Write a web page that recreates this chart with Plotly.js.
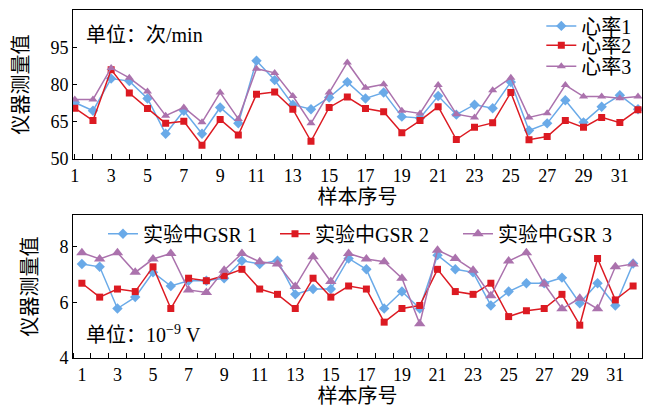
<!DOCTYPE html>
<html>
<head>
<meta charset="utf-8">
<script src="https://cdn.plot.ly/plotly-3.0.1.min.js"></script>
<style>html,body{margin:0;padding:0;background:#fff;}#chart{width:648px;height:410px;}</style>
</head>
<body>
<div id="chart"></div>
<script>
// ---- data ----
const samples = [1,2,3,4,5,6,7,8,9,10,11,12,13,14,15,16,17,18,19,20,21,22,23,24,25,26,27,28,29,30,31,32];
const xTickVals = [1,3,5,7,9,11,13,15,17,19,21,23,25,27,29,31];
const xTickText = ["1","3","5","7","9","11","13","15","17","19","21","23","25","27","29","31"];

const hr1 = [72.8,69.5,82.4,81.4,74.4,60.2,69.5,60.2,70.8,64.4,89.6,81.8,71.9,70.1,74.8,81.0,74.4,76.8,67.1,66.6,75.4,67.9,71.9,70.5,81.0,61.5,64.4,73.7,64.8,71.1,75.7,70.1];
const hr2 = [70.5,65.5,86.0,76.6,70.4,64.4,65.2,55.6,66.0,59.7,76.1,77.0,70.1,57.2,70.8,75.0,70.4,69.1,60.6,65.5,71.1,57.9,62.8,64.6,76.8,57.8,59.1,65.5,62.8,66.8,64.7,69.9];
const hr3 = [74.0,74.0,86.7,82.7,77.2,67.5,70.8,64.8,76.8,66.2,86.4,84.7,75.4,64.4,76.8,88.9,78.7,80.1,69.5,68.4,79.8,68.1,66.8,77.7,82.7,66.8,68.5,79.8,75.2,75.2,74.5,75.2];

const gsr1 = [7.38,7.28,5.78,6.19,7.08,6.59,6.78,6.78,6.87,7.50,7.38,7.50,6.29,6.48,6.48,7.58,7.19,5.78,6.39,5.78,7.70,7.19,7.08,5.89,6.39,6.69,6.69,6.89,5.97,6.69,5.89,7.40];
const gsr2 = [6.69,6.19,6.48,6.39,7.28,5.78,6.87,6.78,6.96,7.19,6.48,6.29,5.78,6.87,6.19,6.59,6.48,5.29,5.78,5.89,7.19,6.39,6.29,6.69,5.49,5.70,5.78,6.29,5.18,7.58,6.09,6.59];
const gsr3 = [7.79,7.56,7.79,7.08,7.56,7.76,6.45,6.36,7.16,7.76,7.46,7.38,6.57,7.64,6.75,7.76,7.56,7.46,6.87,5.23,7.88,7.58,7.16,6.24,7.49,7.79,6.66,5.77,6.15,5.77,7.28,7.38];

const hrNames = ["心率1","心率2","心率3"];
const gsrNames = ["实验中GSR 1","实验中GSR 2","实验中GSR 3"];

// ---- styles ----
const FONT = "Liberation Serif, 'Noto Sans CJK SC', serif";
const BLUE = "#6aaae8", RED = "#dc1a22", PURPLE = "#ab72ad";

function tr(y, name, color, symbol, size, xa, ya, leg) {
  return {
    x: samples, y: y, name: name, type: "scatter", mode: "lines+markers",
    xaxis: xa, yaxis: ya, legend: leg,
    line: {color: color, width: 1.5},
    marker: {color: color, symbol: symbol, size: size}
  };
}

const data = [
  tr(hr1, hrNames[0], BLUE, "diamond", 8, "x", "y", "legend"),
  tr(hr2, hrNames[1], RED, "square", 7, "x", "y", "legend3"),
  tr(hr3, hrNames[2], PURPLE, "triangle-up", 8, "x", "y", "legend4"),
  tr(gsr1, gsrNames[0], BLUE, "diamond", 8, "x2", "y2", "legend2"),
  tr(gsr2, gsrNames[1], RED, "square", 7, "x2", "y2", "legend5"),
  tr(gsr3, gsrNames[2], PURPLE, "triangle-up", 10, "x2", "y2", "legend6")
];

const axBase = {
  showline: true, mirror: true, linecolor: "#000", linewidth: 1,
  showgrid: false, zeroline: false, ticks: "inside", ticklen: 5,
  tickcolor: "#000", tickfont: {family: FONT, size: 18, color: "#000"}
};

const legFont = {family: FONT, size: 20, color: "#000"};
function vLeg(y) {
  return {x: 0.99, xanchor: "right", y: y, yanchor: "middle",
          bgcolor: "rgba(0,0,0,0)", font: legFont, itemwidth: 30};
}
function hLeg(x) {
  return {x: x, xanchor: "left", y: 0.357, yanchor: "middle",
          bgcolor: "rgba(0,0,0,0)", font: legFont, itemwidth: 30};
}

const layout = {
  width: 648, height: 410,
  margin: {l: 73, r: 6, t: 8, b: 52},
  paper_bgcolor: "#fff", plot_bgcolor: "#fff",
  font: {family: FONT, color: "#000"},
  showlegend: true,
  xaxis: Object.assign({}, axBase, {
    anchor: "y", domain: [0, 1], range: [0.9, 32.22],
    tickmode: "array", tickvals: xTickVals, ticktext: xTickText,
    minor: {dtick: 1, tick0: 0, ticks: "inside", ticklen: 5, tickcolor: "#000"},
    title: {text: "样本序号", font: {family: FONT, size: 20}, standoff: 2}
  }),
  yaxis: Object.assign({}, axBase, {
    anchor: "x", domain: [0.5714, 1], range: [50, 110],
    tickmode: "array", tickvals: [50,65,80,95], ticklen: 4,
    title: {text: "仪器测量值", font: {family: FONT, size: 20}, standoff: 16}
  }),
  xaxis2: Object.assign({}, axBase, {
    anchor: "y2", domain: [0, 1], range: [0.5, 32.5],
    tickmode: "array", tickvals: xTickVals, ticktext: xTickText, ticks: "",
    minor: {dtick: 1, tick0: 0.5, ticks: "inside", ticklen: 5, tickcolor: "#000"},
    title: {text: "样本序号", font: {family: FONT, size: 20}, standoff: 3}
  }),
  yaxis2: Object.assign({}, axBase, {
    anchor: "x2", domain: [0, 0.4114], range: [4, 9.15],
    tickmode: "array", tickvals: [4,6,8], ticklen: 4,
    title: {text: "仪器测量值", font: {family: FONT, size: 20}, standoff: 16}
  }),
  legend: vLeg(0.9543),
  legend3: vLeg(0.8986),
  legend4: vLeg(0.8386),
  legend2: hLeg(0.0527),
  legend5: hLeg(0.355),
  legend6: hLeg(0.6766),
  annotations: [
    {xref: "x domain", yref: "y domain", x: 0.02, y: 0.83, xanchor: "left", yanchor: "middle",
     text: "单位：次/min", showarrow: false, font: {family: FONT, size: 20, color: "#000"}},
    {xref: "x2 domain", yref: "y2 domain", x: 0.02, y: 0.17, xanchor: "left", yanchor: "middle",
     text: "单位：10<sup>−9</sup> V", showarrow: false, font: {family: FONT, size: 20, color: "#000"}}
  ]
};

Plotly.newPlot("chart", data, layout, {displayModeBar: false, staticPlot: true});
</script>
</body>
</html>
